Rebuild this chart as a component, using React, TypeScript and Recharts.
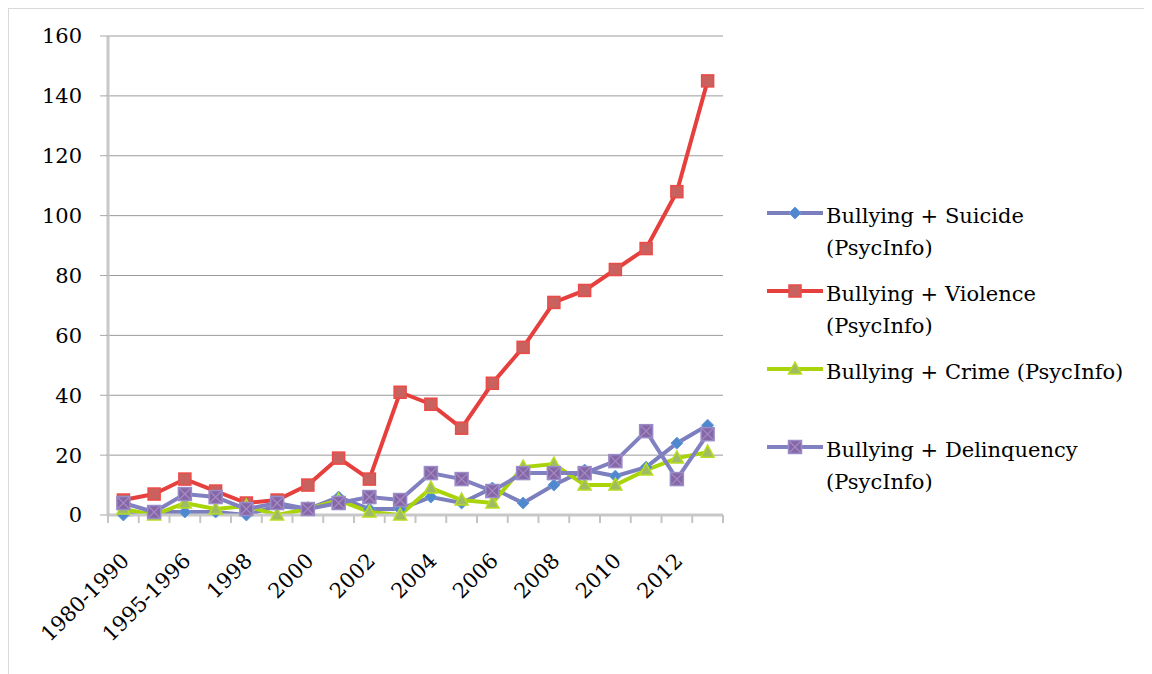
import { LineChart, Line, XAxis, YAxis, CartesianGrid } from 'recharts';

const categories = [
  '1980-1990', '1991-1994', '1995-1996', '1997', '1998', '1999', '2000', '2001', '2002', '2003',
  '2004', '2005', '2006', '2007', '2008', '2009', '2010', '2011', '2012', '2013',
];
const suicide = [0, 1, 1, 1, 0, 3, 2, 6, 2, 2, 6, 4, 9, 4, 10, 15, 13, 16, 24, 30];
const violence = [5, 7, 12, 8, 4, 5, 10, 19, 12, 41, 37, 29, 44, 56, 71, 75, 82, 89, 108, 145];
const crime = [2, 0, 4, 2, 3, 0, 2, 5, 1, 0, 9, 5, 4, 16, 17, 10, 10, 15, 19, 21];
const delinquency = [4, 1, 7, 6, 2, 4, 2, 4, 6, 5, 14, 12, 8, 14, 14, 14, 18, 28, 12, 27];
const yTicks = [0, 20, 40, 60, 80, 100, 120, 140, 160];

const seriesNames = [
  'Bullying + Suicide (PsycInfo)',
  'Bullying + Violence (PsycInfo)',
  'Bullying + Crime (PsycInfo)',
  'Bullying + Delinquency (PsycInfo)',
];
// how the legend breaks each name
const legendLines = [
  ['Bullying + Suicide', '(PsycInfo)'],
  ['Bullying + Violence', '(PsycInfo)'],
  ['Bullying + Crime (PsycInfo)'],
  ['Bullying + Delinquency', '(PsycInfo)'],
];

const data = categories.map((c, i) => ({
  cat: c,
  suicide: suicide[i],
  violence: violence[i],
  crime: crime[i],
  delinquency: delinquency[i],
}));

const FONT = '"DejaVu Serif", serif';
const PLOT_W = 615;
const HALF_BAND = PLOT_W / categories.length / 2;

const C = {
  suicideLine: '#7c7fbe',
  suicideDot: '#4f88cf',
  violenceLine: '#e6403e',
  violenceDot: '#c9625e',
  crimeLine: '#a9d40a',
  crimeDot: '#9fbc62',
  delinqLine: '#8181c1',
  delinqDot: '#8566a6',
};

type P = { cx: number; cy: number };

const Diamond = ({ cx, cy }: P) => (
  <path
    d={`M${cx} ${cy - 6} L${cx + 6} ${cy} L${cx} ${cy + 6} L${cx - 6} ${cy} Z`}
    fill={C.suicideDot}
    stroke="#6b9bd8"
    strokeWidth={1}
  />
);

const Square = ({ cx, cy }: P) => (
  <rect x={cx - 6} y={cy - 6} width={12} height={12} fill={C.violenceDot} stroke="#ec4a46" strokeWidth={1.5} />
);

const Triangle = ({ cx, cy }: P) => (
  <path
    d={`M${cx} ${cy - 7} L${cx + 6.5} ${cy + 5} L${cx - 6.5} ${cy + 5} Z`}
    fill={C.crimeDot}
    stroke="#b8dc20"
    strokeWidth={1.5}
  />
);

const XSquare = ({ cx, cy }: P) => (
  <g>
    <rect x={cx - 6.5} y={cy - 6.5} width={13} height={13} fill={C.delinqDot} stroke="#9a8cc8" strokeWidth={1.5} />
    <path
      d={`M${cx - 5.5} ${cy - 5.5} L${cx + 5.5} ${cy + 5.5} M${cx + 5.5} ${cy - 5.5} L${cx - 5.5} ${cy + 5.5}`}
      stroke="#a48cc4"
      strokeWidth={1.2}
    />
  </g>
);

const markers = [Diamond, Square, Triangle, XSquare];
const lineColors = [C.suicideLine, C.violenceLine, C.crimeLine, C.delinqLine];

function XTick(props: any) {
  const { x, y, index, payload } = props;
  const last = index === categories.length - 1;
  const ax = x + 7;
  const ay = y + 47;
  return (
    <g>
      <line x1={x - HALF_BAND} x2={x - HALF_BAND} y1={y} y2={y + 8} stroke="#c4c4c4" strokeWidth={2} />
      {last && (
        <line x1={x + HALF_BAND} x2={x + HALF_BAND} y1={y} y2={y + 8} stroke="#c4c4c4" strokeWidth={2} />
      )}
      {index % 2 === 0 && (
        <text
          x={ax}
          y={ay}
          textAnchor="end"
          transform={`rotate(-45, ${ax}, ${ay})`}
          fontFamily={FONT}
          fontSize={21}
          fill="#000"
        >
          {payload.value}
        </text>
      )}
    </g>
  );
}

function LegendIcon({ i }: { i: number }) {
  const M = markers[i];
  return (
    <svg width={56} height={20} style={{ position: 'absolute', left: 0, top: 3 }}>
      <line x1={0} x2={56} y1={10} y2={10} stroke={lineColors[i]} strokeWidth={4} />
      <M cx={28} cy={10} />
    </svg>
  );
}

export default function App() {
  const keys = ['suicide', 'violence', 'crime', 'delinquency'];
  return (
    <div
      style={{
        position: 'relative',
        width: 1144,
        height: 666,
        boxSizing: 'border-box',
        borderTop: '1px solid #d9d9d9',
        borderLeft: '1px solid #d9d9d9',
        background: '#fff',
      }}
    >
      <LineChart
        width={1143}
        height={665}
        data={data}
        margin={{ top: 27, right: 429, left: 0, bottom: 1 }}
      >
        <CartesianGrid vertical={false} stroke="#9a9a9a" strokeWidth={1} />
        <XAxis
          dataKey="cat"
          height={158}
          interval={0}
          padding={{ left: HALF_BAND, right: HALF_BAND }}
          tickSize={0}
          tickMargin={0}
          tickLine={false}
          axisLine={{ stroke: '#c8c8c8', strokeWidth: 3 }}
          tick={<XTick />}
        />
        <YAxis
          width={99}
          domain={[0, 160]}
          ticks={yTicks}
          interval={0}
          tickSize={8}
          tickMargin={18}
          axisLine={{ stroke: '#c8c8c8', strokeWidth: 3 }}
          tickLine={{ stroke: '#a8a8a8', strokeWidth: 1 }}
          tick={{ fontFamily: FONT, fontSize: 21, fill: '#000' }}
        />
        {keys.map((k, i) => {
          const M = markers[i];
          return (
            <Line
              key={k}
              dataKey={k}
              name={seriesNames[i]}
              type="linear"
              stroke={lineColors[i]}
              strokeWidth={4}
              isAnimationActive={false}
              dot={(p: any) => <M key={`${k}-${p.index}`} cx={p.cx} cy={p.cy} />}
            />
          );
        })}
      </LineChart>
      <div style={{ position: 'absolute', left: 758, top: 191, fontFamily: FONT, fontSize: 21, color: '#000' }}>
        {legendLines.map((lines, i) => (
          <div key={i} style={{ position: 'relative', height: 78, paddingLeft: 59, lineHeight: '32px' }}>
            <LegendIcon i={i} />
            {lines.map((t, j) => (
              <div key={j} style={{ whiteSpace: 'nowrap' }}>{t}</div>
            ))}
          </div>
        ))}
      </div>
    </div>
  );
}
